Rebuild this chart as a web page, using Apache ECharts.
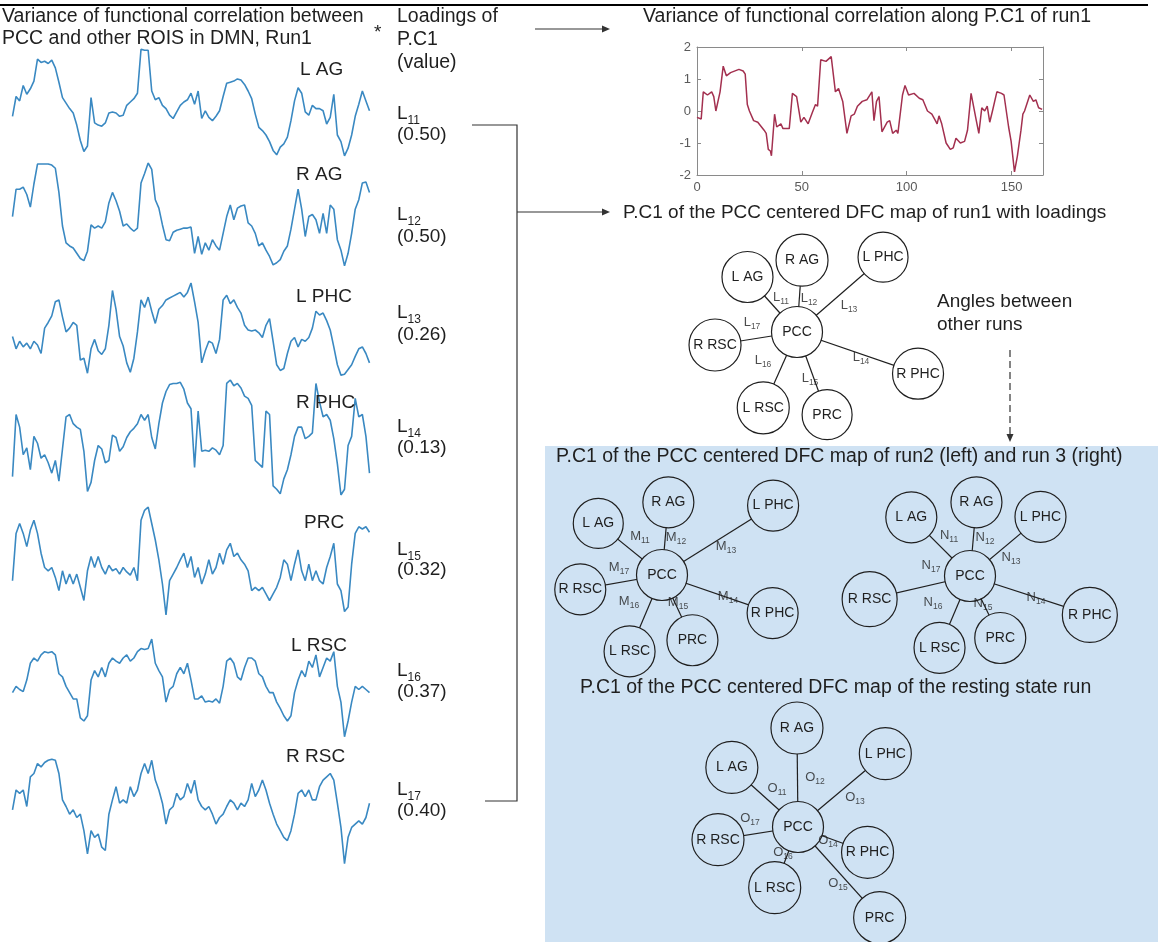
<!DOCTYPE html>
<html>
<head>
<meta charset="utf-8">
<script src="https://cdn.jsdelivr.net/npm/echarts/dist/echarts.min.js"></script>
<style>
  html, body { margin: 0; padding: 0; background: #ffffff; }
  #chart { width: 1163px; height: 942px; }
</style>
</head>
<body>
<div id="chart"></div>
<script>
// ---------------- data ----------------
const roiNames = ['L AG', 'R AG', 'L PHC', 'R PHC', 'PRC', 'L RSC', 'R RSC'];
const loadingIndex = ['11', '12', '13', '14', '15', '16', '17'];
const loadingValues = [0.50, 0.50, 0.26, 0.13, 0.32, 0.37, 0.40];

// variance of functional correlation between PCC and each ROI (relative units, 0-100)
const traceLAG = [37,55,51,65,57,62,69,89,86,87,85,88,81,68,54,49,44,40,29,15,5,10,54,31,29,28,31,40,41,40,37,38,47,50,53,58,98,97,97,60,52,54,47,44,38,35,41,47,50,52,58,48,60,35,42,36,33,37,42,55,67,68,69,71,70,66,60,53,39,27,24,20,14,6,2,9,12,18,33,51,63,58,41,38,47,44,44,42,30,36,57,20,14,1,8,20,37,48,60,51,42];
const traceRAG = [49,75,75,77,70,58,80,99,99,99,99,98,95,72,40,24,21,19,14,9,7,16,41,38,40,38,44,62,72,64,54,40,42,38,35,38,81,90,100,94,65,57,41,27,26,34,36,37,38,38,39,14,30,13,24,17,27,21,17,33,49,60,46,57,59,60,43,40,33,21,24,17,11,3,5,8,16,21,37,56,75,56,30,49,51,46,33,52,33,60,56,27,17,2,14,33,56,65,81,82,72];
const traceLPHC = [43,30,38,32,36,30,38,34,25,52,58,65,80,82,64,48,52,58,55,18,20,4,30,40,28,24,30,55,92,72,43,33,15,5,20,48,82,74,85,70,57,72,76,82,84,86,88,90,85,90,100,80,58,15,28,38,36,25,40,82,87,78,82,74,68,55,50,49,50,47,42,55,62,38,13,7,9,25,38,42,32,40,38,42,52,70,66,68,60,50,32,13,2,3,8,13,22,30,32,25,15];
const traceRPHC = [16,70,59,35,41,22,51,45,32,35,28,19,30,12,40,68,70,62,59,57,38,3,11,30,43,40,28,30,52,50,38,42,50,55,58,62,70,65,70,50,40,62,80,90,96,97,97,98,92,80,75,24,73,38,39,38,41,39,35,43,97,100,95,97,93,86,84,78,30,27,24,73,70,8,5,1,14,22,35,51,59,59,49,51,54,97,81,68,70,65,49,27,0,5,43,51,84,68,70,51,19];
const tracePRC = [33,76,85,76,64,79,88,76,58,45,42,45,36,24,42,30,39,30,39,27,15,42,55,45,55,45,39,47,42,44,39,45,41,38,45,33,88,97,100,85,70,52,30,2,33,39,45,52,58,45,55,36,45,30,39,52,39,45,58,48,61,67,55,58,52,48,42,24,27,24,27,21,15,21,27,36,52,48,33,48,61,42,33,48,33,42,33,30,45,55,67,30,24,5,9,48,76,82,80,82,77];
const traceLRSC = [47,53,50,48,59,75,80,77,83,86,85,86,83,65,62,53,47,41,41,23,20,25,59,68,62,71,62,75,80,77,75,80,83,77,80,86,89,88,89,98,75,68,62,38,50,53,65,71,65,75,59,41,41,44,38,39,38,41,37,53,77,80,75,62,59,71,80,80,77,65,62,53,47,47,38,32,25,20,25,47,59,68,62,77,71,83,62,71,80,77,86,53,38,5,20,38,53,50,53,50,47];
const traceRRSC = [52,70,67,70,55,82,85,94,91,95,97,98,97,85,61,55,48,52,45,48,33,12,33,27,30,18,15,48,61,73,58,61,58,73,64,70,85,94,85,97,79,70,58,39,52,55,67,61,64,76,67,79,61,55,52,55,48,39,45,48,55,61,58,52,58,55,61,76,64,70,79,70,58,48,39,33,27,24,33,48,67,70,64,70,61,61,73,79,82,85,79,58,36,3,27,36,39,42,39,45,58];

// variance of functional correlation along P.C1 of run1
const pcTime = [0,2,3,5,7,8,9,11,12.5,14,16,20,22,23,24,25,27,29,32,33,34,35,35.5,37,38,40,41,44,45.5,47.5,49.5,51,53,55,56.5,57.5,59,61.5,64,66,67.5,69.5,71.5,73.5,75,76.5,78.8,81,83.4,84.4,85.6,86.8,88.2,90.7,91.9,93.3,95,95.8,98,99.2,100.9,103.5,106,107.7,109.9,112,113.7,114.5,115.4,116.7,118.8,120.8,122.2,123.5,125.6,127.6,129,130.7,131.6,133.2,134.4,135.8,137.2,138.4,139.6,140.9,143,145.2,146.4,148.6,149.8,150.3,151.4,152.8,154.5,155.4,156.2,158.7,160.4,161.6,162.9,163.8,164.6];
const pcValue = [-0.2,-0.25,0.6,0.5,0.6,0.45,0.0,0.6,1.4,1.1,1.2,1.3,1.25,1.15,0.2,0.0,-0.3,-0.35,-0.6,-0.7,-1.2,-1.25,-1.4,-0.1,-0.5,-0.4,-0.55,-0.55,0.55,0.45,-0.35,-0.2,-0.4,-0.05,0.2,0.15,1.6,1.55,1.7,0.6,0.7,0.3,-0.7,-0.15,-0.1,0.15,0.3,0.35,0.6,-0.3,0.3,0.45,-0.65,-0.35,-0.3,-0.7,-0.6,-0.7,0.5,0.8,0.5,0.55,0.4,0.35,0.0,-0.1,-0.3,-0.4,-0.15,-0.4,-1.0,-1.2,-1.15,-0.85,-1.0,-0.95,-0.6,0.55,0.5,-0.3,-0.7,0.1,0.0,0.15,-0.35,0.0,0.6,0.55,0.5,-0.5,-0.95,-1.0,-1.9,-1.4,-0.6,-0.1,0.0,0.5,0.3,0.35,0.1,0.15,0.05];
const pcXTicks = [0, 50, 100, 150];
const pcYTicks = [-2, -1, 0, 1, 2];

const traces = [traceLAG, traceRAG, traceLPHC, traceRPHC, tracePRC, traceLRSC, traceRRSC];

// ---------------- layout & style ----------------
const FONT = '"Liberation Sans", Arial, Helvetica, sans-serif';
const INK = '#1f1f1f';
const TRACE_BLUE = '#3a89c2';
const PANEL_BLUE = '#cfe2f3';
const TITLE_SIZE = 19.5;

// vertical band [top, bottom] of each trace panel
const traceBands = [[47,157],[163,268],[283,377],[380,495],[507,617],[637,742],[757,867]];
const traceLeft = 12.5, traceWidth = 357;
const traceLabelAt = [[300,70],[296,175],[296,297],[296,403],[304,523],[291,646],[286,757]];
const loadingRows = [[114,135],[215,237],[313,335],[427,448],[550,570],[671,692],[790,811]];

// star diagrams: spoke direction (deg, counter-clockwise from east) and length from PCC
const diagrams = [
  { letter: 'L', center: [797, 332], fill: '#ffffff',
    angle: [132, 86, 41, -19, -70, -114, 189], length: [74, 72, 114, 128, 88, 83, 83],
    size: [51, 52, 50, 51, 50, 52, 52],
    tag: [[-16,35],[12,34],[52,27],[64,-25],[13,-46],[-34,-28],[-45,10]] },
  { letter: 'M', center: [662, 575], fill: PANEL_BLUE,
    angle: [141, 85, 32, -19, -65, -113, 190], length: [82, 73, 131, 117, 72, 83, 83],
    size: [50, 51, 51, 51, 51, 51, 51],
    tag: [[-22,39],[14,38],[64,29],[66,-21],[16,-27],[-33,-26],[-43,8]] },
  { letter: 'N', center: [970, 576], fill: PANEL_BLUE,
    angle: [135, 85, 40, -18, -64, -113, 193], length: [83, 74, 92, 126, 69, 78, 103],
    size: [51, 51, 51, 55, 51, 51, 55],
    tag: [[-21,41],[15,39],[41,19],[66,-21],[13,-27],[-37,-26],[-39,11]] },
  { letter: 'O', center: [798, 827], fill: PANEL_BLUE,
    angle: [138, 90.6, 40, -20, -48, -111, 189], length: [89, 99, 114, 74, 122, 65, 81],
    size: [52, 52, 52, 52, 52, 52, 52],
    tag: [[-21,39],[17,50],[57,30],[30,-13],[40,-56],[-15,-25],[-48,9]] }
];

// ---------------- option building ----------------
const grid = [], xAxis = [], yAxis = [], series = [];

traces.forEach((values, i) => {
  const [top, bottom] = traceBands[i];
  grid.push({ left: traceLeft, top: top, width: traceWidth, height: bottom - top });
  xAxis.push({ gridIndex: i, type: 'category', boundaryGap: false, show: false,
               data: values.map((_, k) => k) });
  yAxis.push({ gridIndex: i, type: 'value', min: 0, max: 100, show: false });
  series.push({ type: 'line', xAxisIndex: i, yAxisIndex: i, data: values,
                symbol: 'none', silent: true,
                lineStyle: { color: TRACE_BLUE, width: 1.6 } });
});

// P.C1 time course panel (grid 7), boxed like a MATLAB axes
const axisGrey = '#8a8a8a';
const boxLine = { show: true, onZero: false, lineStyle: { color: axisGrey, width: 1 } };
const boxTick = { show: true, inside: true, length: 4, lineStyle: { color: axisGrey } };
grid.push({ left: 697, top: 47, width: 346, height: 128 });
const pcTickLabel = v => (pcXTicks.indexOf(v) >= 0 ? String(v) : '');
xAxis.push({ gridIndex: 7, type: 'value', min: 0, max: 165, interval: 50, position: 'bottom',
  axisLine: boxLine, axisTick: boxTick,
  axisLabel: { color: '#5a5a5a', fontFamily: FONT, fontSize: 13, margin: 6, formatter: pcTickLabel },
  splitLine: { show: false } });
xAxis.push({ gridIndex: 7, type: 'value', min: 0, max: 165, interval: 50, position: 'top',
  axisLine: boxLine, axisTick: boxTick,
  axisLabel: { show: false }, splitLine: { show: false } });
yAxis.push({ gridIndex: 7, type: 'value', min: pcYTicks[0], max: pcYTicks[pcYTicks.length - 1], interval: 1, position: 'left',
  axisLine: boxLine, axisTick: boxTick,
  axisLabel: { color: '#5a5a5a', fontFamily: FONT, fontSize: 13, margin: 6 },
  splitLine: { show: false } });
yAxis.push({ gridIndex: 7, type: 'value', min: pcYTicks[0], max: pcYTicks[pcYTicks.length - 1], interval: 1, position: 'right',
  axisLine: boxLine, axisTick: boxTick,
  axisLabel: { show: false }, splitLine: { show: false } });
series.push({ type: 'line', xAxisIndex: 7, yAxisIndex: 7, symbol: 'none', silent: true,
  data: pcTime.map((t, k) => [t, pcValue[k]]),
  lineStyle: { color: '#a3304f', width: 1.5 } });

// page-sized grid for the star diagrams (grid 8; axes 9)
grid.push({ left: 0, top: 0, width: 1163, height: 942 });
xAxis.push({ gridIndex: 8, type: 'value', min: 0, max: 1163, show: false });
yAxis.push({ gridIndex: 8, type: 'value', min: 0, max: 942, inverse: true, show: false });

const subRich = {
  b: { fontFamily: FONT, fontSize: 13, color: INK, lineHeight: 19, verticalAlign: 'middle' },
  s: { fontFamily: FONT, fontSize: 8.5, color: INK, lineHeight: 19, verticalAlign: 'bottom' }
};

diagrams.forEach(d => {
  const [cx, cy] = d.center;
  const nodes = [{ name: 'PCC', value: [cx, cy], symbolSize: 51 }];
  roiNames.forEach((name, i) => {
    const a = d.angle[i] * Math.PI / 180;
    nodes.push({ name: name,
      value: [cx + d.length[i] * Math.cos(a), cy - d.length[i] * Math.sin(a)],
      symbolSize: d.size[i] });
  });
  series.push({
    type: 'graph', coordinateSystem: 'cartesian2d', xAxisIndex: 9, yAxisIndex: 9,
    layout: 'none', symbol: 'circle', silent: true, z: 4,
    data: nodes,
    links: roiNames.map(name => ({ source: 'PCC', target: name })),
    itemStyle: { color: d.fill, borderColor: INK, borderWidth: 1.2 },
    lineStyle: { color: INK, width: 1.2, opacity: 1, curveness: 0 },
    label: { show: true, position: 'inside', color: INK, fontFamily: FONT, fontSize: 14, formatter: '{b}' },
    emphasis: { disabled: true }
  });
  series.push({
    type: 'scatter', xAxisIndex: 9, yAxisIndex: 9, symbolSize: 1, silent: true, z: 5,
    itemStyle: { color: 'rgba(0,0,0,0)' },
    data: d.tag.map((t, i) => ({
      value: [cx + t[0], cy - t[1]],
      label: { formatter: '{b|' + d.letter + '}{s|' + loadingIndex[i] + '}' }
    })),
    label: { show: true, position: 'inside', rich: subRich }
  });
});

// ---------------- annotations ----------------
const text = (x, y, str, size, extra) => Object.assign({
  type: 'text', x: x, y: y, silent: true, z: 10,
  style: Object.assign({ text: str, fill: INK, fontFamily: FONT, fontSize: size,
                         align: 'left', verticalAlign: 'middle' }, (extra || {}))
});
const stroke = { stroke: '#333333', lineWidth: 1.2 };
const arrowHead = (tip, dir) => {
  // dir: 'right' or 'down'
  const [x, y] = tip;
  const pts = dir === 'right' ? [[x, y], [x - 8, y - 3.5], [x - 8, y + 3.5]]
                              : [[x, y], [x - 3.5, y - 8], [x + 3.5, y - 8]];
  return { type: 'polygon', silent: true, z: 10, shape: { points: pts }, style: { fill: '#333333' } };
};

const graphic = [
  { type: 'rect', silent: true, z: -5, shape: { x: 545, y: 446, width: 613, height: 496 }, style: { fill: PANEL_BLUE } },
  { type: 'line', silent: true, z: 10, shape: { x1: 0, y1: 5, x2: 1148, y2: 5 }, style: { stroke: '#000000', lineWidth: 2.2 } },

  text(2, 17, 'Variance of functional correlation between', TITLE_SIZE),
  text(2, 39, 'PCC and other ROIS in DMN, Run1', TITLE_SIZE),
  text(374, 33, '*', 19),
  text(397, 17, 'Loadings of', TITLE_SIZE),
  text(397, 40, 'P.C1', TITLE_SIZE),
  text(397, 63, '(value)', TITLE_SIZE),
  text(643, 17, 'Variance of functional correlation along P.C1 of run1', TITLE_SIZE),
  text(623, 213, 'P.C1 of the PCC centered DFC map of run1 with loadings', 19),
  text(937, 302, 'Angles between', 19),
  text(937, 325, 'other runs', 19),
  text(556, 457, 'P.C1 of the PCC centered DFC map of run2 (left) and run 3 (right)', TITLE_SIZE),
  text(580, 688, 'P.C1 of the PCC centered DFC map of the resting state run', TITLE_SIZE),

  { type: 'polyline', silent: true, z: 10, shape: { points: [[535, 29], [604, 29]] }, style: stroke },
  arrowHead([610, 29], 'right'),
  { type: 'polyline', silent: true, z: 10, shape: { points: [[472, 125], [517, 125], [517, 801], [485, 801]] }, style: stroke },
  { type: 'polyline', silent: true, z: 10, shape: { points: [[517, 212], [604, 212]] }, style: stroke },
  arrowHead([610, 212], 'right'),
  { type: 'polyline', silent: true, z: 10, shape: { points: [[1010, 350], [1010, 434]] },
    style: { stroke: '#333333', lineWidth: 1.2, lineDash: [7, 4] } },
  arrowHead([1010, 442], 'down')
];

roiNames.forEach((name, i) => {
  const [lx, ly] = traceLabelAt[i];
  graphic.push(text(lx, ly, name, 19));
  const [ry, vy] = loadingRows[i];
  graphic.push(text(397, ry, '{b|L}{s|' + loadingIndex[i] + '}', 19, {
    rich: {
      b: { fontFamily: FONT, fontSize: 19, fill: INK, lineHeight: 26, verticalAlign: 'middle' },
      s: { fontFamily: FONT, fontSize: 12, fill: INK, lineHeight: 26, verticalAlign: 'bottom' }
    }
  }));
  graphic.push(text(397, vy, '(' + loadingValues[i].toFixed(2) + ')', 19));
});

const chart = echarts.init(document.getElementById('chart'), null, { renderer: 'canvas' });
chart.setOption({
  animation: false,
  backgroundColor: '#ffffff',
  grid: grid,
  xAxis: xAxis,
  yAxis: yAxis,
  series: series,
  graphic: graphic
});
</script>
</body>
</html>
